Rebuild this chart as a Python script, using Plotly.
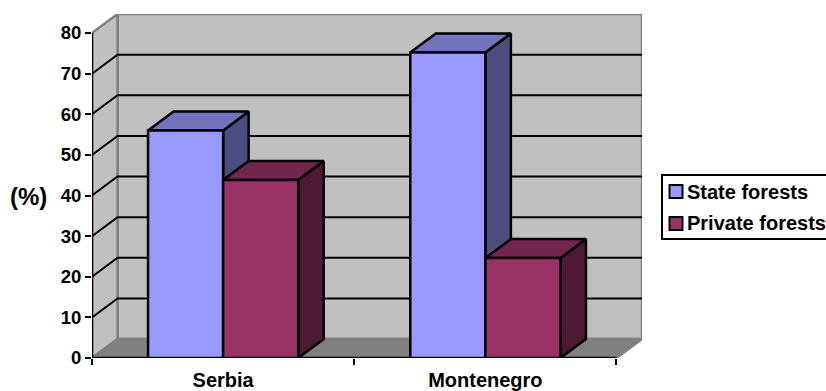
import plotly.graph_objects as go

# Forest ownership shares, in percent
countries = ["Serbia", "Montenegro"]
state_forests = [56.0, 75.2]
private_forests = [43.8, 24.6]
y_ticks = [0, 10, 20, 30, 40, 50, 60, 70, 80]
series_names = ["State forests", "Private forests"]

# Figure frame in pixels
W, H = 826, 391
LEFT, RIGHT, TOP, BOTTOM = 92, 642, 14, 358

# Oblique projection: how far the depth axis shifts, in data units
DX = 25.5 / 262
DY = 19 / 4.0625
BAR_W = 75 / 262
X0, X1 = -0.5, 1.5
Y_MAX_AXIS = 80
x_range = [X0, X1 + DX]
y_range = [0, (BOTTOM - TOP) / 4.0625]

FRONT = ["#9999FF", "#993366"]
TOPS = ["#7373BF", "#73264D"]
SIDES = ["#4D4D80", "#4D1A33"]
WALL, FLOOR, EDGE = "#C0C0C0", "#808080", "#808080"
FONT = "Liberation Sans, Arial, sans-serif"
STROKE = 2.5


def polygon(xs, ys, fill, line="black", width=STROKE):
    return go.Scatter(
        x=xs, y=ys, mode="lines", fill="toself", fillcolor=fill,
        line=dict(color=line, width=width), hoverinfo="skip",
        showlegend=False, cliponaxis=False,
    )


def path(xs, ys, color, width=STROKE):
    return go.Scatter(
        x=xs, y=ys, mode="lines", line=dict(color=color, width=width),
        hoverinfo="skip", showlegend=False, cliponaxis=False,
    )


fig = go.Figure()

# Walls and floor of the chart box
ytop = y_range[1]
fig.add_trace(polygon([X0 + DX, X1 + DX, X1 + DX, X0 + DX, X0 + DX],
                      [DY, DY, ytop, ytop, DY], WALL, EDGE))
fig.add_trace(polygon([X0, X0 + DX, X0 + DX, X0, X0],
                      [0, DY, ytop, Y_MAX_AXIS, 0], WALL, EDGE))
fig.add_trace(polygon([X0, X0 + DX, X1 + DX, X1, X0],
                      [0, DY, DY, 0, 0], FLOOR, EDGE))

# Gridlines run along the side wall and across the back wall
gx, gy = [], []
for v in y_ticks[1:-1]:
    gx += [X0, X0 + DX, X1 + DX, None]
    gy += [v, v + DY, v + DY, None]
fig.add_trace(path(gx, gy, "black", 2))

# Depth faces, back to front, left to right
for i in range(len(countries)):
    for j, values in enumerate([state_forests, private_forests]):
        xl = i - BAR_W + j * BAR_W
        xr = xl + BAR_W
        v = values[i]
        fig.add_trace(polygon([xr, xr + DX, xr + DX, xr, xr],
                              [0, DY, v + DY, v, 0], SIDES[j]))
        fig.add_trace(polygon([xl, xl + DX, xr + DX, xr, xl],
                              [v, v + DY, v + DY, v, v], TOPS[j]))

# Front faces sit on an overlaying pair of axes so they cover the depth faces
for j, values in enumerate([state_forests, private_forests]):
    fig.add_trace(go.Bar(
        x=[0, 1], y=values, name=series_names[j], width=BAR_W,
        offset=-BAR_W + j * BAR_W,
        marker=dict(color=FRONT[j], line=dict(color="black", width=STROKE)),
        xaxis="x2", yaxis="y2", showlegend=False, cliponaxis=False,
    ))

# Axis lines along the front edge of the box
fig.add_trace(path([X0, X0, X1], [Y_MAX_AXIS, 0, 0], "black"))

fig.update_layout(
    width=W, height=H, autosize=False,
    margin=dict(l=LEFT, r=W - RIGHT, t=TOP, b=H - BOTTOM, pad=0),
    paper_bgcolor="white", plot_bgcolor="white",
    font=dict(family=FONT, color="black"),
    showlegend=False, barmode="overlay",
    xaxis=dict(range=x_range, tickmode="array", tickvals=[0, 1], ticktext=countries,
               ticks="", showgrid=False, zeroline=False, showline=False, automargin=False,
               tickfont=dict(family=FONT, size=20, weight="bold"), ticklabelstandoff=8),
    xaxis2=dict(range=x_range, overlaying="x", anchor="y", tickmode="array",
                tickvals=[X0, 0.5, X1], ticktext=["", "", ""], ticks="outside",
                ticklen=6, tickwidth=2, tickcolor="black", automargin=False,
                showgrid=False, zeroline=False, showline=False),
    yaxis=dict(range=y_range, tickmode="array", tickvals=y_ticks, ticks="outside",
               ticklen=6, tickwidth=2, tickcolor="black", automargin=False,
               showgrid=False, zeroline=False, showline=False,
               tickfont=dict(family=FONT, size=18.5, weight="bold")),
    yaxis2=dict(range=y_range, overlaying="y", anchor="x", visible=False),
)


def paper_x(px):
    return (px - LEFT) / (RIGHT - LEFT)


def paper_y(py):
    return (BOTTOM - py) / (BOTTOM - TOP)


def rect(x0, y0, x1, y1, fill, width):
    fig.add_shape(type="rect", xref="paper", yref="paper",
                  x0=paper_x(x0), x1=paper_x(x1), y0=paper_y(y0), y1=paper_y(y1),
                  fillcolor=fill, line=dict(color="black", width=width))


def label(px, py, text, size, anchor="left"):
    fig.add_annotation(xref="paper", yref="paper", x=paper_x(px), y=paper_y(py),
                       text=f"<b>{text}</b>", showarrow=False, xanchor=anchor,
                       yanchor="middle", font=dict(family=FONT, size=size, color="black"),
                       borderpad=0, borderwidth=0)


# Legend box with swatches; its right edge runs off the page
rect(662, 175, 832, 239, "white", 2)
rect(669.5, 185, 682.5, 198, FRONT[0], 2)
rect(669.5, 217, 682.5, 230, FRONT[1], 2)
label(687, 192, series_names[0], 20)
label(687, 223, series_names[1], 20)

# Value axis caption
label(28.5, 196, "(%)", 24, "center")

fig.write_html("out.html")
